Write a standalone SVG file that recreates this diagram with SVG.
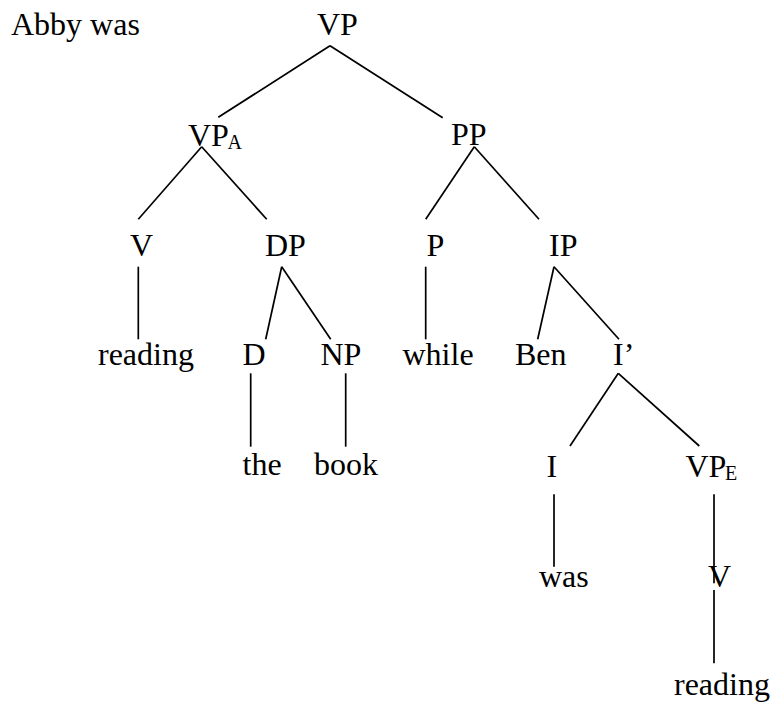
<svg xmlns="http://www.w3.org/2000/svg" width="771" height="702" viewBox="0 0 771 702">
<style>
.sub{font-size:20px}
#edges line{stroke:#000;stroke-width:1.7;fill:none}
</style>
<rect width="771" height="702" fill="#fff"/>
<g id="edges">
<line x1="330" y1="45.7" x2="218.3" y2="117.3"/>
<line x1="330" y1="45.7" x2="442.7" y2="117.7"/>
<line x1="201.7" y1="146.7" x2="138.3" y2="219.3"/>
<line x1="201.7" y1="146.7" x2="266.7" y2="219.3"/>
<line x1="474.3" y1="146.7" x2="425.7" y2="219.3"/>
<line x1="474.3" y1="146.7" x2="539" y2="219.3"/>
<line x1="138.3" y1="266.7" x2="138.3" y2="339.3"/>
<line x1="281.7" y1="266.7" x2="265.7" y2="339.3"/>
<line x1="281.7" y1="266.7" x2="330.7" y2="339.3"/>
<line x1="425.7" y1="266.7" x2="425.7" y2="339.3"/>
<line x1="554" y1="266.7" x2="537.7" y2="339.3"/>
<line x1="554" y1="266.7" x2="619" y2="339.3"/>
<line x1="250.7" y1="373.3" x2="250.7" y2="446.7"/>
<line x1="345.7" y1="373.3" x2="345.7" y2="446.7"/>
<line x1="618.3" y1="373.3" x2="570" y2="446"/>
<line x1="618.3" y1="373.3" x2="699.3" y2="446"/>
<line x1="554" y1="494.3" x2="554" y2="566.7"/>
<line x1="714" y1="494.3" x2="714" y2="583.3"/>
<line x1="714" y1="590" x2="714" y2="663.3"/>
</g>
<g font-family="Liberation Serif, DejaVu Serif, serif" font-size="32" fill="#000">
<g id="abby"><text x="11" y="35">Abby was</text></g>
<g id="vp"><text x="317" y="35">VP</text></g>
<g id="vpa"><text x="188" y="146">VP</text><text class="sub" x="227.5" y="149">A</text></g>
<g id="pp"><text x="451" y="145">PP</text></g>
<g id="v1"><text x="130" y="256">V</text></g>
<g id="dp"><text x="265" y="256">DP</text></g>
<g id="p"><text x="426.5" y="256">P</text></g>
<g id="ip"><text x="549" y="256">IP</text></g>
<g id="reading1"><text x="98" y="365">reading</text></g>
<g id="d"><text x="242.5" y="365">D</text></g>
<g id="np"><text x="320.5" y="365">NP</text></g>
<g id="while"><text x="402.5" y="365">while</text></g>
<g id="ben"><text x="515" y="365">Ben</text></g>
<g id="ibar"><text x="613" y="365">I’</text></g>
<g id="the"><text x="242.5" y="475">the</text></g>
<g id="book"><text x="314" y="475">book</text></g>
<g id="i"><text x="546.5" y="477">I</text></g>
<g id="vpe"><text x="685.5" y="477">VP</text><text class="sub" x="725" y="479.5">E</text></g>
<g id="was"><text x="539" y="587">was</text></g>
<g id="v2"><text x="708" y="587">V</text></g>
<g id="reading2"><text x="674" y="695">reading</text></g>
</g>
</svg>
